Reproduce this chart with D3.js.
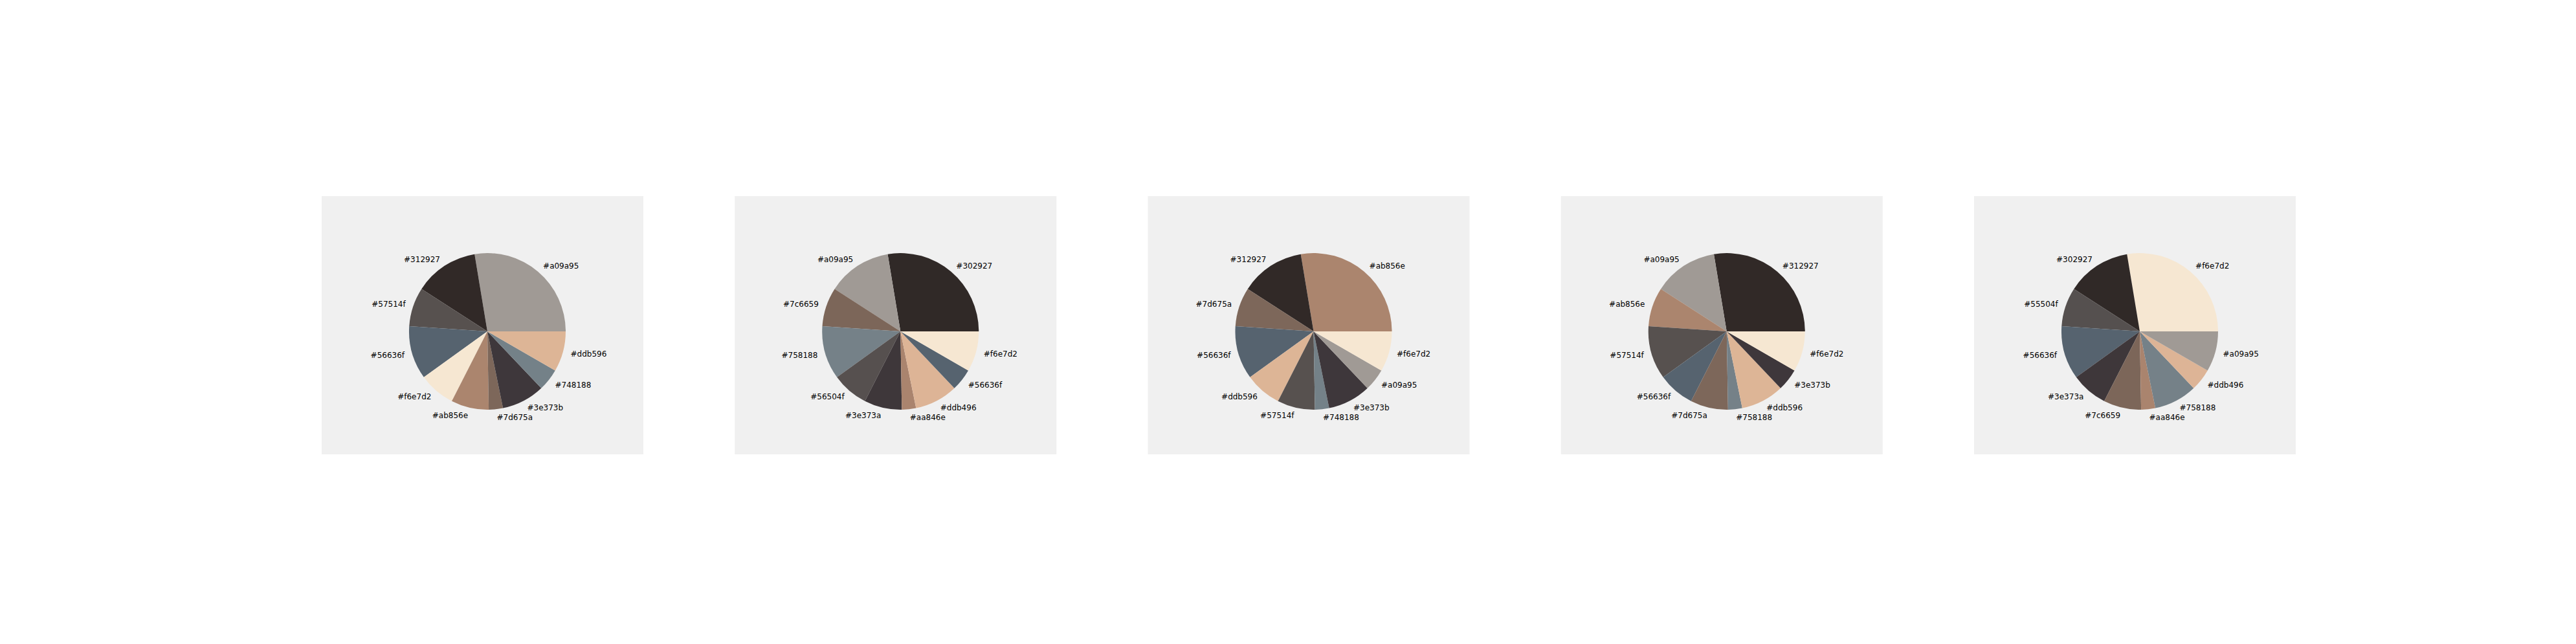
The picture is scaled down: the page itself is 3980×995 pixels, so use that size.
<!DOCTYPE html>
<head>
  <meta charset="utf-8" />
  <script src="https://d3js.org/d3.v7.min.js"></script>
  <style>
    body { margin: 0; background: #fff; }
    text { font-family: "DejaVu Sans", sans-serif; font-size: 12px; fill: #000; }
  </style>
</head>
<body>
  <script>
    var width = 3980, height = 995;

    // slice sizes (degrees), same for every panel
    var sizes = [99.4, 47.8, 29, 39.6, 27.2, 28, 10.5, 32, 16.5, 30];

    var palette1 = ["#a09a95", "#312927", "#57514f", "#56636f", "#f6e7d2", "#ab856e", "#7d675a", "#3e373b", "#748188", "#ddb596"];
    var palette2 = ["#302927", "#a09a95", "#7c6659", "#758188", "#56504f", "#3e373a", "#aa846e", "#ddb496", "#56636f", "#f6e7d2"];
    var palette3 = ["#ab856e", "#312927", "#7d675a", "#56636f", "#ddb596", "#57514f", "#748188", "#3e373b", "#a09a95", "#f6e7d2"];
    var palette4 = ["#312927", "#a09a95", "#ab856e", "#57514f", "#56636f", "#7d675a", "#758188", "#ddb596", "#3e373b", "#f6e7d2"];
    var palette5 = ["#f6e7d2", "#302927", "#55504f", "#56636f", "#3e373a", "#7c6659", "#aa846e", "#758188", "#ddb496", "#a09a95"];
    var palettes = [palette1, palette2, palette3, palette4, palette5];

    var panelW = 497, panelH = 399, panelX0 = 497, panelY = 303, step = 638.25;
    var r = 121;

    var svg = d3.select("body").append("svg")
      .attr("width", width).attr("height", height);

    // counter-clockwise from east, like matplotlib
    var pie = d3.pie().sort(null)
      .startAngle(Math.PI / 2).endAngle(Math.PI / 2 - 2 * Math.PI);
    var arc = d3.arc().innerRadius(0).outerRadius(r);

    palettes.forEach(function (pal, i) {
      var px = panelX0 + i * step;
      svg.append("rect")
        .attr("x", px).attr("y", panelY)
        .attr("width", panelW).attr("height", panelH)
        .attr("fill", "#f0f0f0");

      var g = svg.append("g")
        .attr("transform", "translate(" + (px + 256) + "," + (panelY + 209) + ")");

      var arcs = pie(sizes);
      g.selectAll("path").data(arcs).join("path")
        .attr("d", arc)
        .attr("fill", function (d, j) { return pal[j]; });

      g.selectAll("text").data(arcs).join("text")
        .each(function (d) {
          var a = (d.startAngle + d.endAngle) / 2;
          var x = 1.1 * r * Math.sin(a), y = -1.1 * r * Math.cos(a);
          d3.select(this)
            .attr("x", x).attr("y", y)
            .attr("dy", "0.35em")
            .attr("text-anchor", x > 0 ? "start" : "end");
        })
        .text(function (d, j) { return pal[j]; });
    });
  </script>
</body>
